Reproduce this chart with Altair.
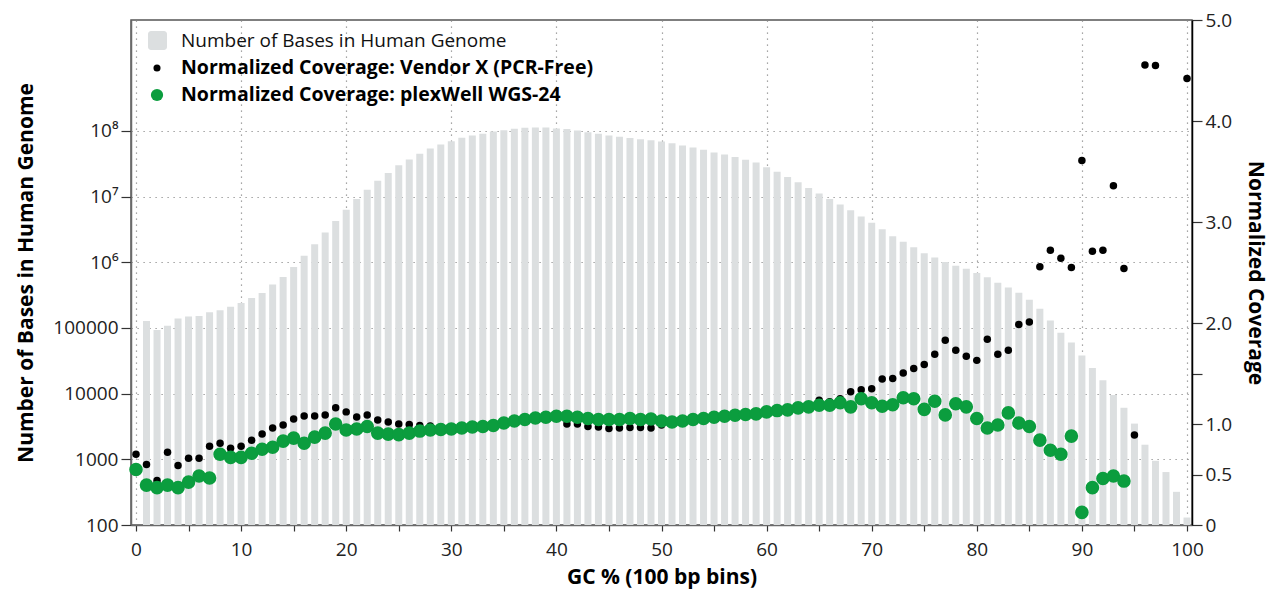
import altair as alt
import pandas as pd

gc = list(range(0, 101))

bases = [None,
 1.28e5, 9.3e4, 1.08e5, 1.39e5, 1.49e5, 1.52e5, 1.74e5, 1.87e5, 2.1e5, 2.4e5,
 2.85e5, 3.4e5, 4.6e5, 6.0e5, 8.5e5, 1.26e6, 1.88e6, 2.85e6, 4.25e6, 6.3e6,
 9.2e6, 1.27e7, 1.74e7, 2.3e7, 3.0e7, 3.67e7, 4.5e7, 5.4e7, 6.2e7, 7.0e7,
 7.9e7, 8.5e7, 9.1e7, 9.8e7, 1.03e8, 1.08e8, 1.12e8, 1.13e8, 1.13e8, 1.09e8,
 1.07e8, 1.02e8, 9.6e7, 9.1e7, 8.5e7, 8.2e7, 7.8e7, 7.5e7, 7.2e7, 6.9e7,
 6.5e7, 6.0e7, 5.6e7, 5.2e7, 4.7e7, 4.4e7, 4.0e7, 3.65e7, 3.3e7, 2.8e7,
 2.4e7, 2.0e7, 1.66e7, 1.36e7, 1.12e7, 9.2e6, 7.6e6, 6.2e6, 5.0e6, 4.0e6,
 3.2e6, 2.5e6, 2.05e6, 1.7e6, 1.38e6, 1.18e6, 1.01e6, 8.9e5, 8.0e5, 6.9e5,
 5.9e5, 4.9e5, 4.15e5, 3.45e5, 2.7e5, 1.96e5, 1.3e5, 8.5e4, 6.0e4, 3.8e4,
 2.45e4, 1.6e4, 9.5e3, 6.1e3, 3.5e3, 1.67e3, 950, 640, 320, 130]

vendor_x = [0.70, 0.60, 0.44, 0.72, 0.59, 0.66, 0.66, 0.78, 0.81, 0.76,
 0.78, 0.84, 0.90, 0.96, 0.99, 1.05, 1.08, 1.08, 1.09, 1.16,
 1.12, 1.07, 1.09, 1.04, 1.02, 1.00, 0.995, 0.985, 0.98, 0.97,
 0.96, 0.96, 0.97, 0.975, 0.985, 1.00, 1.02, 1.035, 1.05, 1.055,
 1.06, 1.00, 1.00, 0.975, 0.97, 0.955, 0.96, 0.965, 0.965, 0.96,
 0.99, 1.00, 1.02, 1.035, 1.045, 1.06, 1.07, 1.08, 1.09, 1.10,
 1.115, 1.13, 1.14, 1.155, 1.165, 1.235, 1.22, 1.25, 1.32, 1.34,
 1.35, 1.445, 1.45, 1.505, 1.55, 1.59, 1.69, 1.83, 1.73, 1.67,
 1.63, 1.84, 1.69, 1.73, 1.985, 2.01, 2.556, 2.72, 2.64, 2.55,
 3.61, 2.71, 2.72, 3.36, 2.54, 0.89, 4.555, 4.55, None, None, 4.42]

plexwell = [0.55, 0.395, 0.37, 0.395, 0.37, 0.425, 0.485, 0.465, 0.70, 0.67,
 0.67, 0.71, 0.75, 0.77, 0.83, 0.86, 0.81, 0.87, 0.91, 1.00,
 0.94, 0.95, 0.975, 0.91, 0.90, 0.895, 0.91, 0.93, 0.94, 0.945,
 0.95, 0.96, 0.97, 0.975, 0.985, 1.01, 1.03, 1.045, 1.06, 1.067,
 1.077, 1.077, 1.067, 1.054, 1.045, 1.045, 1.045, 1.054, 1.045, 1.05,
 1.03, 1.02, 1.03, 1.045, 1.054, 1.067, 1.077, 1.087, 1.094, 1.10,
 1.12, 1.133, 1.14, 1.16, 1.17, 1.186, 1.186, 1.21, 1.17, 1.25,
 1.21, 1.176, 1.19, 1.26, 1.25, 1.145, 1.225, 1.09, 1.20, 1.17,
 1.054, 0.96, 0.99, 1.11, 1.01, 0.975, 0.84, 0.74, 0.70, 0.88,
 0.125, 0.37, 0.46, 0.485, 0.435, None, None, None, None, None, None]

series_names = ["Number of Bases in Human Genome",
                "Normalized Coverage: Vendor X (PCR-Free)",
                "Normalized Coverage: plexWell WGS-24"]

left_ticks = [100, 1000, 10000, 100000, 1e6, 1e7, 1e8]
right_ticks = [0, 0.5, 1.0, 1.5, 2.0, 3.0, 4.0, 5.0]
x_ticks = list(range(0, 101, 5))

FONT = "Open Sans"
W, H = 1061, 505

bars_df = pd.DataFrame({"gc": gc, "bases": bases}).dropna()
pts = []
for g, v in zip(gc, vendor_x):
    if v is not None:
        pts.append({"gc": g, "cov": v, "series": series_names[1]})
for g, v in zip(gc, plexwell):
    if v is not None:
        pts.append({"gc": g, "cov": v, "series": series_names[2]})
pts_df = pd.DataFrame(pts)
pts_df["order"] = range(len(pts_df))

x_enc = alt.X("gc:Q", scale=alt.Scale(domain=[0, 100], nice=False),
              axis=alt.Axis(values=x_ticks,
                            labelExpr="datum.value % 10 == 0 ? datum.label : ''",
                            title="GC % (100 bp bins)", tickSize=6,
                            labelPadding=9, titlePadding=7,
                            gridOpacity={"condition": {"test": "datum.value % 10 != 0", "value": 0}, "value": 1},
                            grid=True))

bars = alt.Chart(bars_df).mark_bar(color="#dcdfe0", size=7, clip=True).encode(
    x=x_enc,
    y=alt.Y("bases:Q",
            scale=alt.Scale(type="log", domain=[100, 10 ** 9.69], nice=False),
            axis=alt.Axis(values=left_ticks, orient="left",
                          labelExpr="datum.value == 1e6 ? '10\u2076' : datum.value == 1e7 ? '10\u2077' : datum.value == 1e8 ? '10\u2078' : format(datum.value, 'd')",
                          title="Number of Bases in Human Genome", grid=True,
                          tickSize=10, labelPadding=3, titlePadding=16)),
    y2=alt.datum(100),
)

points = alt.Chart(pts_df).mark_circle(opacity=1).encode(
    x=alt.X("gc:Q"),
    y=alt.Y("cov:Q", scale=alt.Scale(domain=[0, 5], nice=False),
            axis=alt.Axis(values=right_ticks, orient="right", grid=False,
                          labelExpr="datum.value == 1.5 ? '' : datum.value == 0 ? '0' : format(datum.value, '.1f')",
                          title="Normalized Coverage", tickSize=10, labelPadding=3,
                          titlePadding=13, domainColor="#000000")),
    color=alt.Color("series:N", scale=alt.Scale(domain=series_names[1:], range=["#000000", "#0b9d3e"]), legend=None),
    size=alt.Size("series:N", scale=alt.Scale(domain=series_names[1:], range=[56, 185]), legend=None),
    order=alt.Order("order:Q"),
)

leg_df = pd.DataFrame({"label": series_names, "row": [0, 1, 2]})

leg_rect = alt.Chart(leg_df[leg_df.row == 0]).mark_rect(color="#dcdfe0", cornerRadius=3).encode(
    x=alt.value(17), x2=alt.value(36), y=alt.value(11), y2=alt.value(30))
leg_dot1 = alt.Chart(leg_df[leg_df.row == 1]).mark_circle(color="#000000", opacity=1, size=50).encode(
    x=alt.value(26), y=alt.value(48))
leg_dot2 = alt.Chart(leg_df[leg_df.row == 2]).mark_circle(color="#0b9d3e", opacity=1, size=150).encode(
    x=alt.value(26), y=alt.value(75))
leg_t0 = alt.Chart(leg_df[leg_df.row == 0]).mark_text(align="left", baseline="middle", font=FONT,
    fontSize=19, color="#111").encode(x=alt.value(50), y=alt.value(21), text="label:N")
leg_t1 = alt.Chart(leg_df[leg_df.row == 1]).mark_text(align="left", baseline="middle", font=FONT,
    fontSize=19.5, fontWeight="bold", color="#000").encode(x=alt.value(50), y=alt.value(48), text="label:N")
leg_t2 = alt.Chart(leg_df[leg_df.row == 2]).mark_text(align="left", baseline="middle", font=FONT,
    fontSize=19.5, fontWeight="bold", color="#000").encode(x=alt.value(50), y=alt.value(75), text="label:N")

chart = alt.layer(bars, points, leg_rect, leg_dot1, leg_dot2, leg_t0, leg_t1, leg_t2).resolve_scale(
    y="independent"
).properties(
    width=W, height=H,
    autosize=alt.AutoSizeParams(type="none"),
    padding={"left": 123, "top": 12, "right": 78, "bottom": 66},
).configure_view(
    stroke="#555555", strokeWidth=1.5
).configure_axis(
    labelFont=FONT, labelFontSize=19, labelColor="#222222",
    titleFont=FONT, titleFontSize=21, titleFontWeight="bold", titleColor="#000000",
    domainColor="#6a6a6a", domainWidth=1.5, tickColor="#333333", tickWidth=1.2,
    gridColor="#8a8a8a", gridDash=[1.2, 4.8], gridWidth=1.2,
)

chart.save("out.html", embed_options={"renderer": "svg", "actions": False})
